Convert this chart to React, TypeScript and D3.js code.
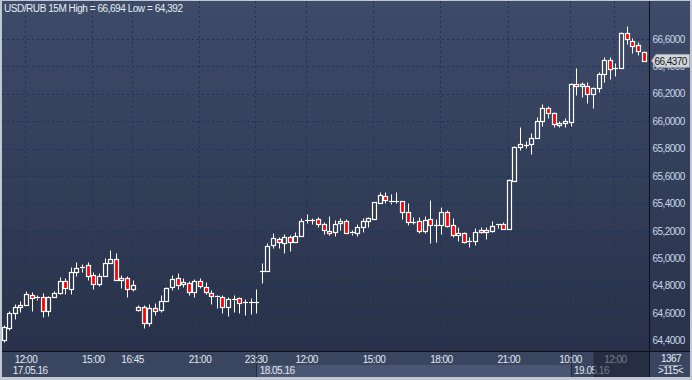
import React from "react";
import * as d3 from "d3";

const titleText = "USD/RUB 15M High = 66,694 Low = 64,392";

const opens = [
  64.406, 64.496, 64.601, 64.644, 64.659, 64.736, 64.714, 64.717, 64.615, 64.722,
  64.751, 64.838, 64.776, 64.904, 64.929, 64.953, 64.88, 64.812, 64.873, 64.97,
  64.994, 64.843, 64.856, 64.776, 64.625, 64.644, 64.528, 64.637, 64.625, 64.693,
  64.795, 64.856, 64.812, 64.824, 64.754, 64.838, 64.795, 64.746, 64.719, 64.717,
  64.649, 64.698, 64.71, 64.681, 64.681, 64.681, 64.909, 64.911, 65.099, 65.142,
  65.111, 65.16, 65.118, 65.166, 65.279, 65.279, 65.286, 65.249, 65.203, 65.191,
  65.257, 65.273, 65.184, 65.184, 65.228, 65.273, 65.286, 65.407, 65.458, 65.414,
  65.416, 65.417, 65.337, 65.265, 65.271, 65.203, 65.286, 65.243, 65.244, 65.337,
  65.242, 65.171, 65.184, 65.118, 65.13, 65.208, 65.191, 65.203, 65.248, 65.249,
  65.213, 65.567, 65.815, 65.827, 65.833, 65.876, 66.002, 66.095, 66.058, 65.971,
  65.986, 65.997, 66.272, 66.257, 66.26, 66.199, 66.241, 66.345, 66.447, 66.39,
  66.391, 66.642, 66.588, 66.556, 66.507,
];
const highs = [
  64.515, 64.62, 64.666, 64.69, 64.763, 64.758, 64.734, 64.746, 64.727, 64.763,
  64.865, 64.856, 64.94, 64.977, 64.96, 64.977, 64.9, 64.893, 65.002, 65.062,
  65.038, 64.88, 64.873, 64.843, 64.661, 64.661, 64.668, 64.674, 64.734, 64.795,
  64.88, 64.893, 64.86, 64.838, 64.849, 64.856, 64.827, 64.771, 64.734, 64.734,
  64.717, 64.734, 64.722, 64.705, 64.71, 64.778, 64.97, 65.115, 65.184, 65.16,
  65.177, 65.171, 65.191, 65.293, 65.325, 65.293, 65.301, 65.268, 65.312, 65.281,
  65.293, 65.286, 65.208, 65.25, 65.293, 65.305, 65.414, 65.487, 65.487, 65.47,
  65.487, 65.421, 65.402, 65.3, 65.305, 65.31, 65.427, 65.286, 65.378, 65.354,
  65.293, 65.232, 65.196, 65.16, 65.22, 65.232, 65.232, 65.276, 65.252, 65.266,
  65.58, 65.82, 65.961, 65.859, 65.913, 66.034, 66.126, 66.112, 66.07, 66.002,
  66.022, 66.277, 66.386, 66.289, 66.287, 66.252, 66.357, 66.467, 66.467, 66.423,
  66.651, 66.694, 66.605, 66.578, 66.515,
];
const lows = [
  64.392, 64.479, 64.559, 64.608, 64.659, 64.617, 64.698, 64.572, 64.581, 64.719,
  64.741, 64.739, 64.739, 64.873, 64.9, 64.843, 64.776, 64.8, 64.873, 64.97,
  64.843, 64.783, 64.717, 64.766, 64.617, 64.491, 64.508, 64.588, 64.612, 64.693,
  64.771, 64.776, 64.795, 64.734, 64.722, 64.783, 64.739, 64.668, 64.642, 64.605,
  64.581, 64.612, 64.605, 64.588, 64.596, 64.605, 64.822, 64.911, 65.074, 65.079,
  65.042, 65.055, 65.118, 65.166, 65.256, 65.249, 65.232, 65.177, 65.171, 65.164,
  65.208, 65.188, 65.171, 65.164, 65.195, 65.232, 65.286, 65.402, 65.407, 65.397,
  65.405, 65.286, 65.244, 65.249, 65.188, 65.188, 65.111, 65.123, 65.179, 65.23,
  65.159, 65.13, 65.111, 65.086, 65.099, 65.184, 65.14, 65.196, 65.225, 65.213,
  65.213, 65.567, 65.791, 65.803, 65.76, 65.876, 65.968, 66.022, 65.961, 65.956,
  65.961, 65.966, 66.192, 66.175, 66.136, 66.095, 66.216, 66.289, 66.306, 66.33,
  66.391, 66.564, 66.496, 66.483, 66.437,
];
const closes = [
  64.501, 64.601, 64.644, 64.659, 64.741, 64.712, 64.717, 64.615, 64.717, 64.746,
  64.838, 64.783, 64.9, 64.929, 64.94, 64.873, 64.812, 64.873, 64.97, 64.994,
  64.843, 64.856, 64.776, 64.807, 64.644, 64.528, 64.637, 64.62, 64.693, 64.783,
  64.849, 64.807, 64.827, 64.754, 64.834, 64.8, 64.754, 64.727, 64.725, 64.649,
  64.703, 64.703, 64.674, 64.683, 64.683, 64.683, 64.911, 65.091, 65.147, 65.118,
  65.16, 65.118, 65.166, 65.276, 65.281, 65.281, 65.249, 65.208, 65.184, 65.252,
  65.273, 65.188, 65.191, 65.232, 65.276, 65.293, 65.41, 65.463, 65.427, 65.421,
  65.417, 65.337, 65.264, 65.266, 65.203, 65.281, 65.244, 65.244, 65.337, 65.237,
  65.169, 65.184, 65.118, 65.13, 65.196, 65.191, 65.208, 65.239, 65.249, 65.213,
  65.572, 65.811, 65.833, 65.83, 65.881, 66.002, 66.095, 66.058, 65.978, 65.986,
  66.002, 66.272, 66.257, 66.272, 66.199, 66.241, 66.345, 66.447, 66.379, 66.391,
  66.642, 66.598, 66.551, 66.513, 66.437,
];

const timeTickIdx = [4, 16, 23, 35, 45, 54, 66, 78, 90, 101, 109];
const timeTickLabels = ["12:00", "15:00", "16:45", "21:00", "23:30", "12:00", "15:00", "18:00", "21:00", "10:00", "12:00"];
const dayStartIdx = [0, 45, 101];
const dayLabels = ["17.05.16", "18.05.16", "19.05.16"];
const priceTicks = [64.4, 64.6, 64.8, 65.0, 65.2, 65.4, 65.6, 65.8, 66.0, 66.2, 66.4, 66.6];
const lastPrice = 66.437;
const totalBars = "1367";
const visibleBars = ">115<";

const FONT = "'Liberation Sans', Arial, sans-serif";

export default function App() {
  const W = 692;
  const H = 380;
  const pl = 2, pt = 1, pr = 649, pb = 351;
  const axisBottom = 377;
  const n = opens.length;
  const x = d3.scaleLinear().domain([0, n - 1]).range([3.5, 643.5]);
  const y = d3.scaleLinear().domain([64.4, 66.6]).range([340.8, 39]);
  const fmt = (v: number) => d3.format(".4f")(v).replace(".", ",");

  const candles = d3.range(n).map((i) => {
    const o = opens[i], c = closes[i], h = highs[i], l = lows[i];
    const px = Math.round(x(i));
    const top = Math.round(y(Math.max(o, c))) + 0.5;
    const bot = Math.round(y(Math.min(o, c))) + 0.5;
    const yh = Math.round(y(h)) + 0.5;
    const yl = Math.round(y(l)) + 0.5;
    const down = c < o;
    const doji = bot - top < 1.5;
    return { i, px, top, bot, yh, yl, down, doji };
  });

  const lastY = y(lastPrice);

  return (
    <svg
      width={W}
      height={H}
      style={{ position: "fixed", left: 0, top: 0, display: "block" }}
      fontFamily={FONT}
    >
      <defs>
        <linearGradient id="bg" x1="0" y1="0" x2="0" y2="1">
          <stop offset="0%" stopColor="#3e4b69" />
          <stop offset="100%" stopColor="#283149" />
        </linearGradient>
        <clipPath id="plotClip">
          <rect x={pl} y={pt} width={pr - pl} height={pb - pt} />
        </clipPath>
      </defs>

      {/* frame */}
      <rect x={0} y={0} width={W} height={H} fill="#c2c8d1" />
      <rect x={pl} y={pt} width={690 - pl} height={pb - pt} fill="url(#bg)" />

      {/* grid */}
      <g clipPath="url(#plotClip)">
        {priceTicks.map((v) => (
          <line
            key={"h" + v}
            x1={pl}
            x2={pr}
            y1={Math.round(y(v)) + 0.5}
            y2={Math.round(y(v)) + 0.5}
            stroke="#1a3260"
            strokeDasharray="2,3"
          />
        ))}
        {timeTickIdx.map((t, k) => (
          <line
            key={"v" + k}
            x1={Math.round(x(t)) - 0.5}
            x2={Math.round(x(t)) - 0.5}
            y1={pt}
            y2={pb}
            stroke="#1a3260"
            strokeDasharray="2,3"
          />
        ))}

        {/* candles */}
        {candles.map((cd) => (
          <g key={cd.i}>
            <line x1={cd.px + 0.5} x2={cd.px + 0.5} y1={cd.yh} y2={cd.top} stroke="#ffffff" strokeWidth={1} />
            <line x1={cd.px + 0.5} x2={cd.px + 0.5} y1={cd.bot} y2={cd.yl} stroke="#ffffff" strokeWidth={1} />
            {cd.doji ? (
              <line x1={cd.px - 2} x2={cd.px + 3} y1={cd.top} y2={cd.top} stroke="#ffffff" strokeWidth={1.2} />
            ) : (
              <rect
                x={cd.px - 1.5}
                y={cd.top}
                width={4}
                height={cd.bot - cd.top}
                fill={cd.down ? "#ff0000" : "none"}
                stroke="#ffffff"
                strokeWidth={1.2}
              />
            )}
          </g>
        ))}
      </g>

      {/* title */}
      <text x={4} y={12} fontSize={10} letterSpacing={-0.45} fill="#e8edf5">
        {titleText}
      </text>

      {/* right axis labels */}
      {priceTicks.map((v) => (
        <text
          key={"p" + v}
          x={652.5}
          y={y(v) + 3.5}
          fontSize={10}
          letterSpacing={-0.55}
          fill="#c9d6ea"
        >
          {fmt(v)}
        </text>
      ))}

      {/* price tag */}
      <path
        d={`M651.5,${lastY - 0.5} L656,${lastY - 7} H689.5 V${lastY + 6} H656 Z`}
        fill="#d2d5da"
        stroke="#9aa1ab"
        strokeWidth={0.8}
      />
      <text x={654.5} y={lastY + 3.3} fontSize={10} letterSpacing={-0.55} fill="#151922">
        {fmt(lastPrice)}
      </text>

      {/* bottom axis */}
      <rect x={pl} y={pb} width={pr - pl} height={axisBottom - pb} fill="#3a4560" />
      <rect
        x={x(dayStartIdx[1])}
        y={365}
        width={x(dayStartIdx[2]) - x(dayStartIdx[1])}
        height={axisBottom - 365}
        fill="#4b5673"
      />
      {dayStartIdx.slice(1).map((d, k) => (
        <line
          key={"ds" + k}
          x1={Math.round(x(d)) + 0.5}
          x2={Math.round(x(d)) + 0.5}
          y1={pb}
          y2={axisBottom}
          stroke="#222a3c"
        />
      ))}
      {timeTickIdx.map((t, k) => (
        <text
          key={"tl" + k}
          x={x(t)}
          y={362.5}
          fontSize={10}
          letterSpacing={-0.5}
          textAnchor="middle"
          fill="#e1e7f0"
        >
          {timeTickLabels[k]}
        </text>
      ))}
      {dayStartIdx.map((d, k) => (
        <text
          key={"dl" + k}
          x={k === 0 ? 12.7 : x(d) + 3.5}
          y={374}
          fontSize={10}
          letterSpacing={-0.5}
          fill="#e1e7f0"
        >
          {dayLabels[k]}
        </text>
      ))}
      <rect x={593.5} y={pb + 0.5} width={pr - 593.5} height={axisBottom - pb - 0.5} fill="#151b2c" opacity={0.55} />

      {/* bottom-right box */}
      <rect x={pr} y={pb} width={690 - pr} height={axisBottom - pb} fill="#3a4560" />
      <text x={671} y={361.5} fontSize={10} letterSpacing={-0.5} textAnchor="middle" fill="#e8edf5">
        {totalBars}
      </text>
      <line x1={659} x2={682} y1={365.5} y2={365.5} stroke="#8d97a8" />
      <text x={670.5} y={374} fontSize={10} letterSpacing={-0.5} textAnchor="middle" fill="#e8edf5">
        {visibleBars}
      </text>

      {/* separators */}
      <line x1={pr + 0.5} x2={pr + 0.5} y1={pt} y2={axisBottom} stroke="#0c101a" />
      <line x1={pl} x2={690} y1={pb + 0.5} y2={pb + 0.5} stroke="#0c101a" />
    </svg>
  );
}
